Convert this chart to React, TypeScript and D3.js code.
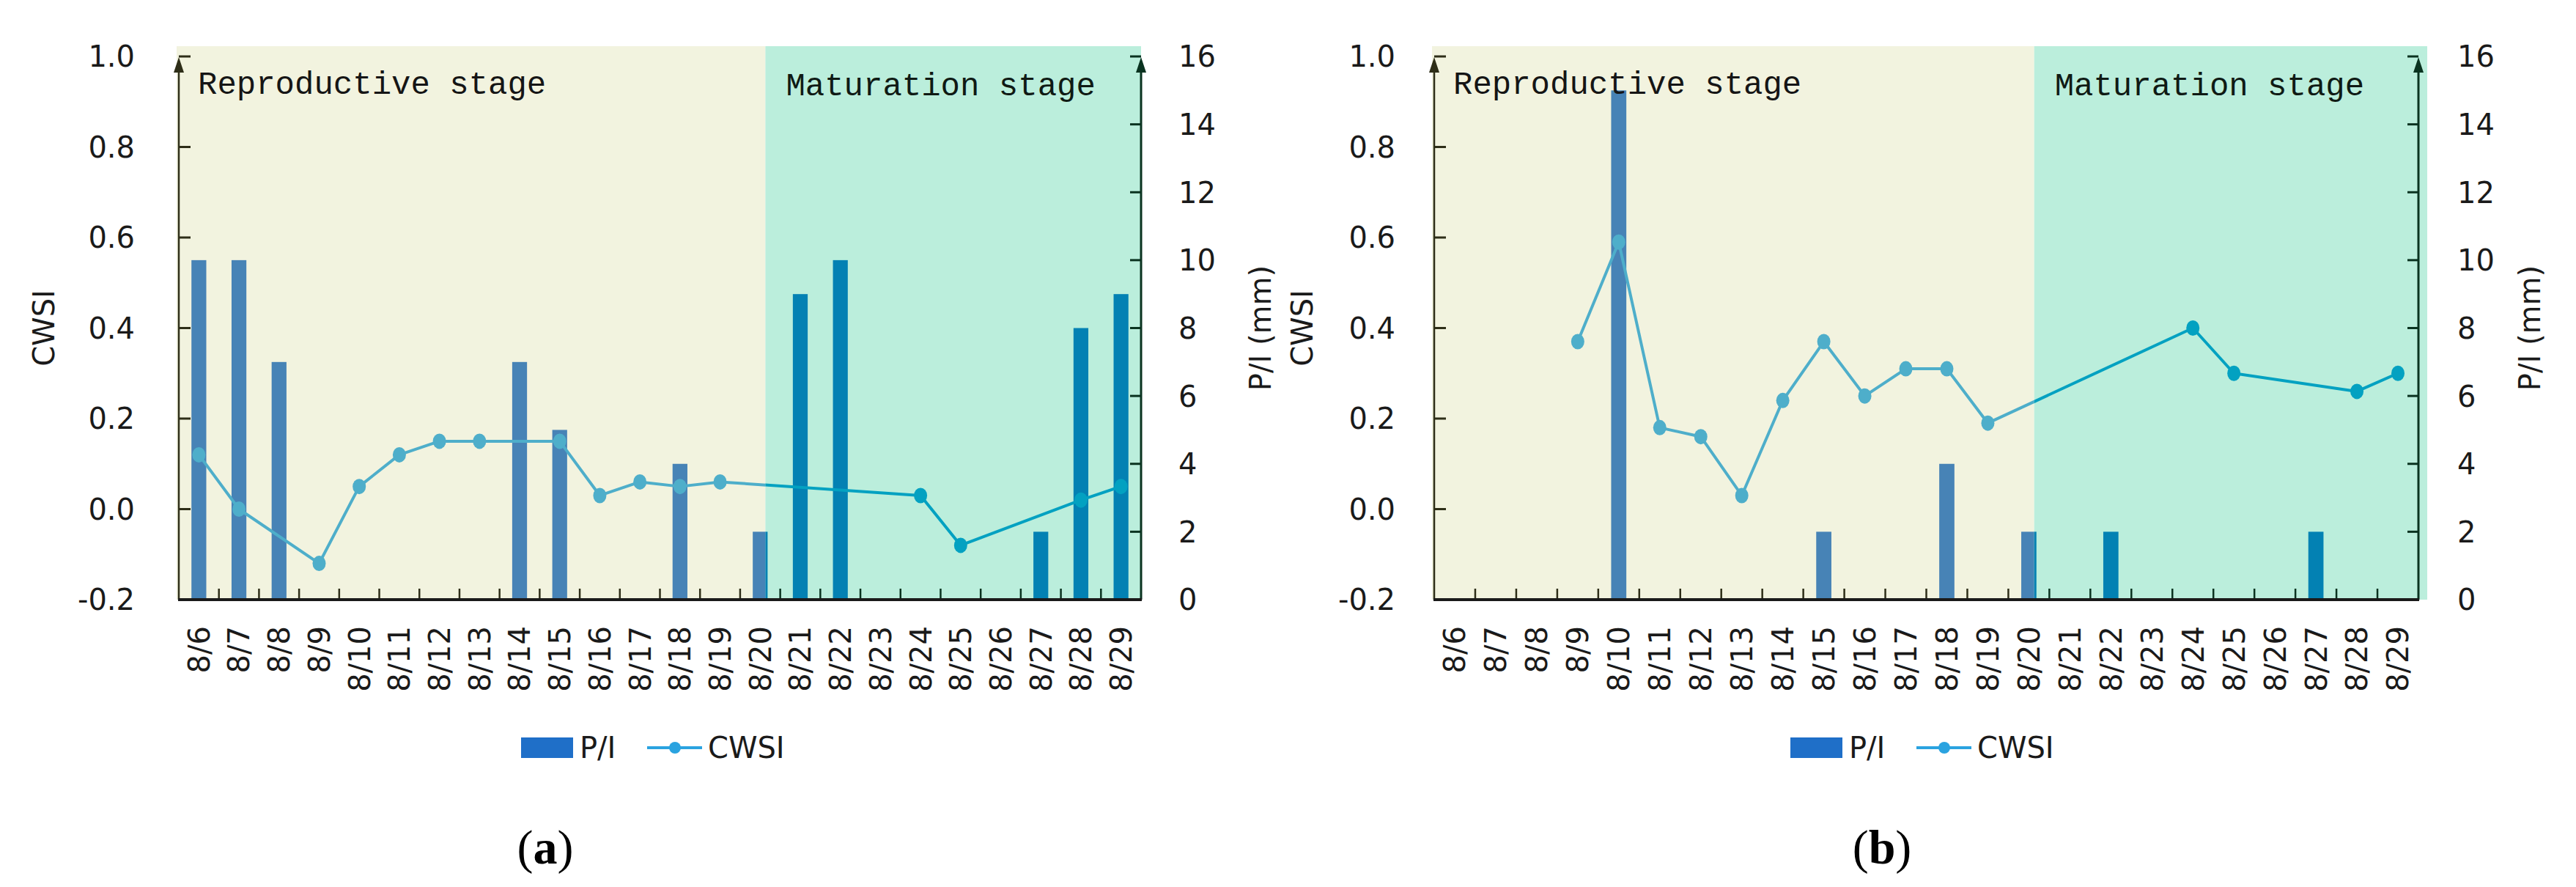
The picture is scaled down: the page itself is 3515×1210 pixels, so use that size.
import React from 'react';
import * as d3 from 'd3';

const dates = ['8/6','8/7','8/8','8/9','8/10','8/11','8/12','8/13','8/14','8/15','8/16','8/17','8/18','8/19','8/20','8/21','8/22','8/23','8/24','8/25','8/26','8/27','8/28','8/29'];
const piA = [10,10,7,0,0,0,0,0,7,5,0,0,4,0,2,9,10,0,0,0,0,2,8,9];
const cwsiA: (number|null)[] = [0.12,0.0,null,-0.12,0.05,0.12,0.15,0.15,null,0.15,0.03,0.06,0.05,0.06,null,null,null,null,0.03,-0.08,null,null,0.02,0.05];
const piB = [0,0,0,0,15,0,0,0,0,2,0,0,4,0,2,0,2,0,0,0,0,2,0,0];
const cwsiB: (number|null)[] = [null,null,null,0.37,0.59,0.18,0.16,0.03,0.24,0.37,0.25,0.31,0.31,0.19,null,null,null,null,0.40,0.30,null,null,0.26,0.30];
const cwsiTicks = [-0.2,0,0.2,0.4,0.6,0.8,1.0];
const piTicks = [0,2,4,6,8,10,12,14,16];
const stageBoundary = '8/20';
const stageNames = ['Reproductive stage','Maturation stage'];
const legendNames = ['P/I','CWSI'];

const W = 3515, H = 1210;
const FONT = "'DejaVu Sans', sans-serif";
const Y_TOP = 77, Y_BOT = 818, BG_TOP = 63;

const C = {
  bgRep: '#F2F3DF', bgMat: '#BBEEDC',
  barRep: '#4783B6', barMat: '#0381B3',
  lineRep: '#4EAECA', lineMat: '#03A1C1',
  axisRep: '#2E2E18', axisMat: '#0A3320',
  legBar: '#1F6FC8', legLine: '#2AA3E0',
};

type PanelProps = {
  id: string; x0: number; x1: number; pi: number[]; cwsi: (number|null)[];
  bgExtra: number; labelLRight: number; titleLX: number; labelRLeft: number; titleRX: number;
  legendX: number; tagX: number; tag: string;
};

function Panel(p: PanelProps) {
  const x = d3.scaleBand<string>().domain(dates).range([p.x0, p.x1]).paddingInner(0).paddingOuter(0);
  const bw = x.bandwidth();
  const yL = d3.scaleLinear().domain([-0.2, 1.0]).range([Y_BOT, Y_TOP]);
  const yR = d3.scaleLinear().domain([0, 16]).range([Y_BOT, Y_TOP]);
  const cx = (d: string) => (x(d) as number) + bw / 2;
  const boundary = cx(stageBoundary) + bw * 0.13;
  const barW = bw * 0.37;
  const pts = dates.map((d, i) => ({ d, v: p.cwsi[i] })).filter(o => o.v !== null) as { d: string; v: number }[];
  const line = d3.line<{ d: string; v: number }>().x(o => cx(o.d)).y(o => yL(o.v))(pts) || '';
  const clipR = `${p.id}-rep`, clipM = `${p.id}-mat`;

  const marks = (barColor: string, lineColor: string) => (
    <g>
      {dates.map((d, i) => p.pi[i] > 0 ? (
        <rect key={d} x={cx(d) - barW / 2} y={yR(p.pi[i])} width={barW} height={yR(0) - yR(p.pi[i])} fill={barColor} />
      ) : null)}
      <path d={line} fill="none" stroke={lineColor} strokeWidth={4} strokeLinejoin="round" />
      {pts.map(o => <ellipse key={o.d} cx={cx(o.d)} cy={yL(o.v)} rx={9} ry={10.5} fill={lineColor} />)}
    </g>
  );

  const ly = 1020;
  return (
    <g>
      <defs>
        <clipPath id={clipR}><rect x={0} y={0} width={boundary} height={H} /></clipPath>
        <clipPath id={clipM}><rect x={boundary} y={0} width={W - boundary} height={H} /></clipPath>
      </defs>
      <rect x={p.x0 - 3} y={BG_TOP} width={boundary - p.x0 + 3} height={Y_BOT - BG_TOP} fill={C.bgRep} />
      <rect x={boundary} y={BG_TOP} width={p.x1 + p.bgExtra - boundary} height={Y_BOT - BG_TOP} fill={C.bgMat} />
      <g clipPath={`url(#${clipR})`}>{marks(C.barRep, C.lineRep)}</g>
      <g clipPath={`url(#${clipM})`}>{marks(C.barMat, C.lineMat)}</g>

      <text x={p.x0 + 26} y={128} fontFamily="'Liberation Mono', monospace" fontSize={44} fill="#151515">{stageNames[0]}</text>
      <text x={boundary + 28} y={130} fontFamily="'Liberation Mono', monospace" fontSize={44} fill="#0F1A14">{stageNames[1]}</text>

      {/* left axis */}
      <line x1={p.x0} x2={p.x0} y1={Y_BOT} y2={Y_TOP + 18} stroke={C.axisRep} strokeWidth={2.5} />
      <polygon points={`${p.x0 - 7},${Y_TOP + 22} ${p.x0},${Y_TOP + 1} ${p.x0 + 7},${Y_TOP + 22}`} fill={C.axisRep} />
      {cwsiTicks.slice(1).map(t => (
        <line key={t} x1={p.x0} x2={p.x0 + 16} y1={yL(t)} y2={yL(t)} stroke={C.axisRep} strokeWidth={3} />
      ))}
      {/* right axis */}
      <line x1={p.x1} x2={p.x1} y1={Y_BOT} y2={Y_TOP + 18} stroke={C.axisMat} strokeWidth={3} />
      <polygon points={`${p.x1 - 7},${Y_TOP + 22} ${p.x1},${Y_TOP + 1} ${p.x1 + 7},${Y_TOP + 22}`} fill={C.axisMat} />
      {piTicks.slice(1).map(t => (
        <line key={t} x1={p.x1 - 15} x2={p.x1} y1={yR(t)} y2={yR(t)} stroke={C.axisMat} strokeWidth={3} />
      ))}
      {/* bottom axis */}
      {dates.slice(1).map(d => (
        <line key={d} x1={x(d) as number} x2={x(d) as number} y1={Y_BOT} y2={Y_BOT - 15}
          stroke={(x(d) as number) < boundary ? C.axisRep : C.axisMat} strokeWidth={2.5} />
      ))}
      <line x1={p.x0 - 1} x2={p.x1 + 1} y1={Y_BOT} y2={Y_BOT} stroke="#1A1A1A" strokeWidth={4} />

      {/* tick labels */}
      {cwsiTicks.map(t => (
        <text key={t} x={p.labelLRight} y={yL(t)} dy="0.36em" textAnchor="end" fontFamily={FONT} fontSize={40} fill="#1A1A1A">
          {t.toFixed(1)}
        </text>
      ))}
      {piTicks.map(t => (
        <text key={t} x={p.labelRLeft} y={yR(t)} dy="0.36em" textAnchor="start" fontFamily={FONT} fontSize={40} fill="#1A1A1A">
          {t}
        </text>
      ))}
      {dates.map(d => (
        <text key={d} transform={`translate(${cx(d)},${Y_BOT + 36}) rotate(-90)`} dy="0.36em" textAnchor="end"
          fontFamily={FONT} fontSize={40} fill="#1A1A1A">{d}</text>
      ))}
      <text transform={`translate(${p.titleLX},${(Y_TOP + Y_BOT) / 2}) rotate(-90)`} dy="0.36em" textAnchor="middle"
        fontFamily={FONT} fontSize={40} fill="#1A1A1A">CWSI</text>
      <text transform={`translate(${p.titleRX},${(Y_TOP + Y_BOT) / 2}) rotate(-90)`} dy="0.36em" textAnchor="middle"
        fontFamily={FONT} fontSize={40} fill="#1A1A1A">P/I (mm)</text>

      {/* legend */}
      <rect x={p.legendX} y={ly - 14} width={71} height={28} fill={C.legBar} />
      <text x={p.legendX + 80} y={ly} dy="0.36em" fontFamily={FONT} fontSize={40} fill="#1A1A1A">{legendNames[0]}</text>
      <line x1={p.legendX + 172} x2={p.legendX + 247} y1={ly} y2={ly} stroke={C.legLine} strokeWidth={4} />
      <circle cx={p.legendX + 210} cy={ly} r={8} fill={C.legLine} />
      <text x={p.legendX + 255} y={ly} dy="0.36em" fontFamily={FONT} fontSize={40} fill="#1A1A1A">{legendNames[1]}</text>

      <text x={p.tagX} y={1178} textAnchor="middle" fontFamily="'Liberation Serif', serif" fontSize={66} fill="#000">
        (<tspan fontWeight="bold">{p.tag}</tspan>)
      </text>
    </g>
  );
}

export default function App() {
  return (
    <svg width={W} height={H} viewBox={`0 0 ${W} ${H}`} style={{ position: 'absolute', left: 0, top: 0, background: '#fff' }}>
      <rect x={0} y={0} width={W} height={H} fill="#fff" />
      <Panel id="a" x0={244} x1={1557} pi={piA} cwsi={cwsiA} bgExtra={0} labelLRight={184} titleLX={60}
        labelRLeft={1608} titleRX={1720} legendX={711} tagX={744} tag="a" />
      <Panel id="b" x0={1957} x1={3300} pi={piB} cwsi={cwsiB} bgExtra={12} labelLRight={1904} titleLX={1777}
        labelRLeft={3353} titleRX={3452} legendX={2443} tagX={2568} tag="b" />
    </svg>
  );
}
